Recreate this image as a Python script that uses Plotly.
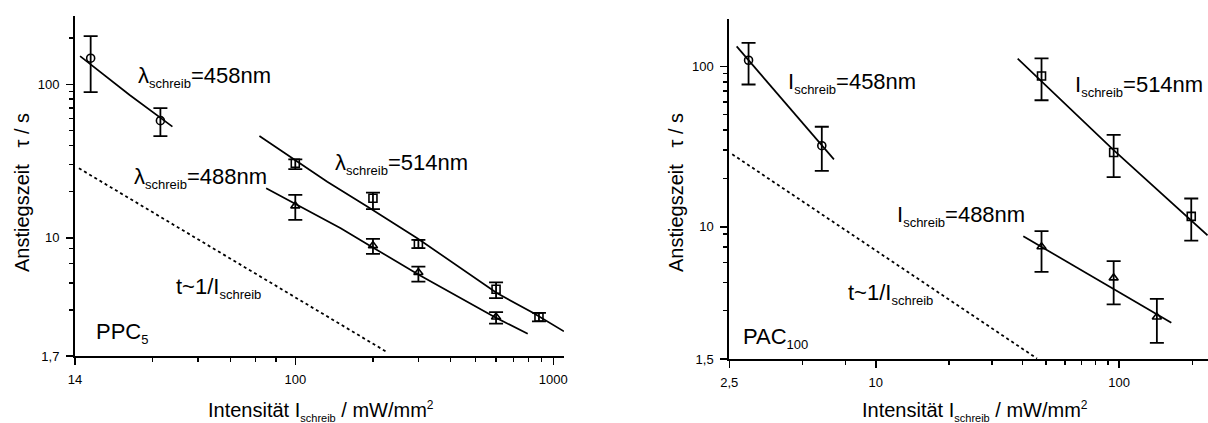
import plotly.graph_objects as go
import math

# ---------------- data ----------------
# Left panel: PPC5
ppc_458_x = [16.1, 30.0]
ppc_458_y = [148, 58]
ppc_458_up = [58, 12]
ppc_458_dn = [59, 12]

ppc_514_x = [100, 200, 300, 600, 880]
ppc_514_y = [30.6, 18.1, 9.1, 4.63, 3.05]
ppc_514_up = [1.9, 1.6, 0.6, 0.5, 0.2]
ppc_514_dn = [2.6, 2.7, 0.53, 0.58, 0.19]

ppc_488_x = [100, 200, 300, 600]
ppc_488_y = [16.15, 8.9, 5.95, 3.05]
ppc_488_up = [2.9, 0.95, 0.55, 0.23]
ppc_488_dn = [3.05, 1.03, 0.76, 0.29]

ppc_fit458_x = [14.65, 22.8, 33.4]
ppc_fit458_y = [152.8, 85.2, 53.0]
ppc_fit514_x = [72.6, 133, 190, 297, 604, 837, 1099]
ppc_fit514_y = [46.1, 23.2, 16.0, 9.95, 4.37, 3.24, 2.46]
ppc_fit488_x = [77.1, 150, 202, 301, 604, 796]
ppc_fit488_y = [21.05, 11.56, 8.57, 5.75, 3.0, 2.37]
ppc_inv_x = [14.5, 227]
ppc_inv_y = [28.4, 1.8]

# Right panel: PAC100
pac_458_x = [3.0, 6.0]
pac_458_y = [109, 32]
pac_458_up = [31, 10]
pac_458_dn = [32, 9.7]

pac_514_x = [48, 95, 198]
pac_514_y = [87, 29, 11.6]
pac_514_up = [25, 8.4, 3.4]
pac_514_dn = [25.6, 8.6, 3.4]

pac_488_x = [48, 95, 143]
pac_488_y = [7.5, 4.8, 2.74]
pac_488_up = [1.9, 1.3, 0.81]
pac_488_dn = [2.27, 1.52, 0.85]

pac_fit458_x = [2.68, 6.73]
pac_fit458_y = [133, 26.3]
pac_fit514_x = [38.3, 95, 231]
pac_fit514_y = [111.7, 30.0, 8.85]
pac_fit488_x = [40.4, 164]
pac_fit488_y = [8.73, 2.52]
pac_inv_x = [2.57, 46]
pac_inv_y = [28.3, 1.51]

# tick labels
ppc_x_major = [14, 100, 1000]
ppc_x_major_text = ["14", "100", "1000"]
ppc_x_minor = [28, 42, 56, 70, 84, 200, 300, 400, 500, 600, 700, 800, 900]
ppc_y_major = [1.7, 10, 100]
ppc_y_major_text = ["1,7", "10", "100"]
ppc_y_minor = [3.4, 5.1, 6.8, 8.5, 20, 30, 40, 50, 60, 70, 80, 90, 200]

pac_x_major = [2.5, 10, 100]
pac_x_major_text = ["2,5", "10", "100"]
pac_x_minor = [5, 7.5, 20, 30, 40, 50, 60, 70, 80, 90, 200]
pac_y_major = [1.5, 10, 100]
pac_y_major_text = ["1,5", "10", "100"]
pac_y_minor = [3, 4.5, 6, 7.5, 9, 20, 30, 40, 50, 60, 70, 80, 90]

# ---------------- layout helpers ----------------
W, H = 1208, 423
FONT = "Liberation Sans, Arial, sans-serif"


def px(x):
    return x / W


def py(y):
    return 1 - y / H


fig = go.Figure()

err_style = dict(type="data", symmetric=False, color="black", thickness=1.8, width=7)


def add_points(x, y, up, dn, symbol, xa, ya):
    fig.add_trace(go.Scatter(
        x=x, y=y, mode="markers", xaxis=xa, yaxis=ya,
        marker=dict(symbol=symbol, size=8, color="black",
                    line=dict(color="black", width=1.6)),
        error_y=dict(array=up, arrayminus=dn, **err_style),
        showlegend=False, hoverinfo="skip"))


def add_line(x, y, xa, ya, dash="solid", width=1.7):
    fig.add_trace(go.Scatter(
        x=x, y=y, mode="lines", xaxis=xa, yaxis=ya,
        line=dict(color="black", width=width, dash=dash),
        showlegend=False, hoverinfo="skip"))


# left panel
add_line(ppc_fit458_x, ppc_fit458_y, "x", "y")
add_line(ppc_fit514_x, ppc_fit514_y, "x", "y")
add_line(ppc_fit488_x, ppc_fit488_y, "x", "y")
add_line(ppc_inv_x, ppc_inv_y, "x", "y", dash="dot", width=1.8)
add_points(ppc_458_x, ppc_458_y, ppc_458_up, ppc_458_dn, "circle-open", "x", "y")
add_points(ppc_514_x, ppc_514_y, ppc_514_up, ppc_514_dn, "square-open", "x", "y")
add_points(ppc_488_x, ppc_488_y, ppc_488_up, ppc_488_dn, "triangle-up-open", "x", "y")

# right panel
add_line(pac_fit458_x, pac_fit458_y, "x2", "y2")
add_line(pac_fit514_x, pac_fit514_y, "x2", "y2")
add_line(pac_fit488_x, pac_fit488_y, "x2", "y2")
add_line(pac_inv_x, pac_inv_y, "x2", "y2", dash="dot", width=1.8)
add_points(pac_458_x, pac_458_y, pac_458_up, pac_458_dn, "circle-open", "x2", "y2")
add_points(pac_514_x, pac_514_y, pac_514_up, pac_514_dn, "square-open", "x2", "y2")
add_points(pac_488_x, pac_488_y, pac_488_up, pac_488_dn, "triangle-up-open", "x2", "y2")

tickfont = dict(family=FONT, size=13, color="black")


def axis(rng, dom, major, text, minor, ticks="outside", labels=True, **kw):
    d = dict(type="log", range=rng, domain=dom, showgrid=False, zeroline=False,
             showline=True, linecolor="black", linewidth=2,
             ticks=ticks, ticklen=7 if ticks == "outside" else 5,
             tickwidth=1.5, tickcolor="black",
             tickmode="array", tickvals=major, ticktext=text,
             showticklabels=labels, tickfont=tickfont, automargin=False,
             minor=dict(tickmode="array", tickvals=minor, ticks=ticks,
                        ticklen=4, tickwidth=1.5, tickcolor="black", showgrid=False),
             fixedrange=True)
    d.update(kw)
    return d


L_xdom = [px(75), px(564)]
L_ydom = [py(356), py(15.7)]
L_xr = [math.log10(14), 3.0415]
L_yr = [math.log10(1.7), math.log10(280)]

R_xdom = [px(729.3), 1.0]
R_ydom = [py(359), py(19)]
R_xr = [math.log10(2.5), 2.3655]
R_yr = [math.log10(1.5), 2.2945]

fig.update_layout(
    width=W, height=H, margin=dict(l=0, r=0, t=0, b=0, pad=0, autoexpand=False),
    paper_bgcolor="white", plot_bgcolor="white", showlegend=False,
    font=dict(family=FONT, color="black"),
    xaxis=axis(L_xr, L_xdom, ppc_x_major, ppc_x_major_text, ppc_x_minor,
               anchor="y", ticklabelstandoff=3),
    yaxis=axis(L_yr, L_ydom, ppc_y_major, ppc_y_major_text, ppc_y_minor,
               anchor="x", ticklabelstandoff=4),
    xaxis3=axis(L_xr, L_xdom, ppc_x_major, ppc_x_major_text, ppc_x_minor,
                ticks="inside", labels=False, overlaying="x", side="top", anchor="y"),
    yaxis3=axis(L_yr, L_ydom, ppc_y_major, ppc_y_major_text, ppc_y_minor,
                ticks="inside", labels=False, overlaying="y", side="right", anchor="x"),
    xaxis2=axis(R_xr, R_xdom, pac_x_major, pac_x_major_text, pac_x_minor,
                anchor="y2", ticklabelstandoff=3),
    yaxis2=axis(R_yr, R_ydom, pac_y_major, pac_y_major_text, pac_y_minor,
                anchor="x2", ticklabelstandoff=4),
    xaxis4=axis(R_xr, R_xdom, pac_x_major, pac_x_major_text, pac_x_minor,
                ticks="inside", labels=False, overlaying="x2", side="top", anchor="y2"),
)

ann_font = dict(family=FONT, size=22, color="black")
title_font = dict(family=FONT, size=20, color="black")


def label(text, x, y, font=ann_font, xanchor="left", angle=0):
    fig.add_annotation(text=text, x=px(x), y=py(y), xref="paper", yref="paper",
                       xanchor=xanchor, yanchor="middle", showarrow=False,
                       font=font, textangle=angle, borderpad=0)


def sub(t, size=13):
    return '<sub><span style="font-size:%dpx">%s</span></sub>' % (size, t)


def sup(t, size=12):
    return '<sup><span style="font-size:%dpx">%s</span></sup>' % (size, t)


nb = "\u00a0"
ytitle = "Anstiegszeit" + nb * 3 + "τ / s"
xtitle = "Intensität I" + sub("schreib", 11) + " / mW/mm" + sup("2")

# left panel labels
label("λ" + sub("schreib") + "=458nm", 137, 77)
label("λ" + sub("schreib") + "=488nm", 133, 178)
label("λ" + sub("schreib") + "=514nm", 334, 164)
label("t~1/I" + sub("schreib"), 175, 288)
label("PPC" + sub("5"), 95, 333)
label(ytitle, 22, 193, font=title_font, xanchor="center", angle=-90)
label(xtitle, 321, 411, font=title_font, xanchor="center")

# right panel labels
label("I" + sub("schreib") + "=458nm", 787, 83)
label("I" + sub("schreib") + "=514nm", 1074, 86)
label("I" + sub("schreib") + "=488nm", 896, 216)
label("t~1/I" + sub("schreib"), 847, 294)
label("PAC" + sub("100"), 742, 338)
label(ytitle, 676, 193, font=title_font, xanchor="center", angle=-90)
label(xtitle, 975, 411, font=title_font, xanchor="center")

fig.write_html(
    "out.html",
    config={"displayModeBar": False, "staticPlot": True},
    post_script="document.body.style.margin='0';document.body.style.padding='0';",
)
